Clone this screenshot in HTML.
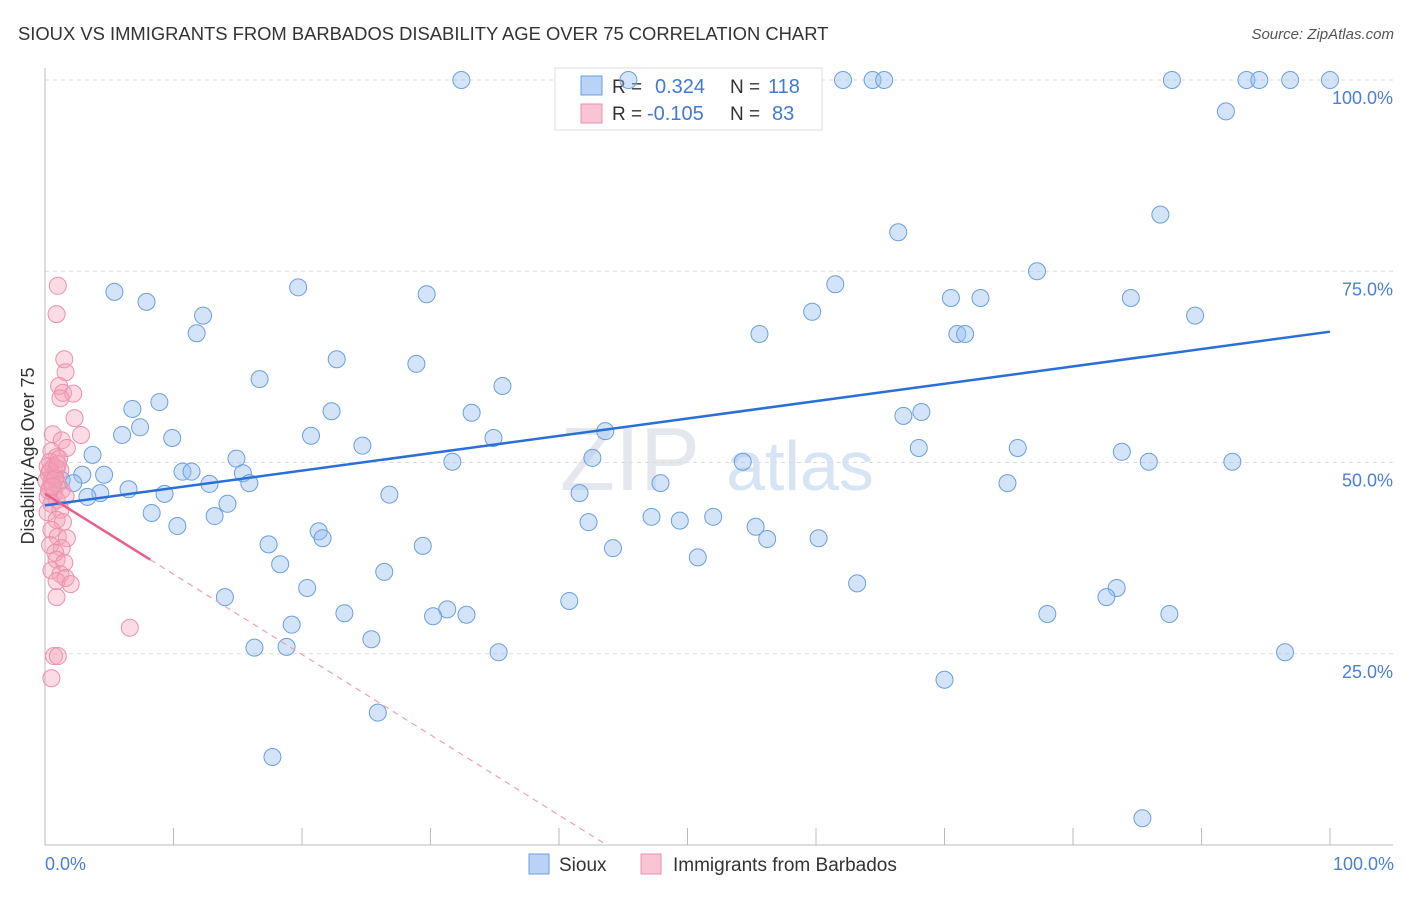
<!DOCTYPE html>
<html><head><meta charset="utf-8">
<style>
body{margin:0;background:#fff;font-family:"Liberation Sans",sans-serif;}
svg text{font-family:"Liberation Sans",sans-serif;}
</style></head>
<body>
<svg id="chart" width="1406" height="892" xmlns="http://www.w3.org/2000/svg">
<text x="18" y="40" font-size="18.4" fill="#333">SIOUX VS IMMIGRANTS FROM BARBADOS DISABILITY AGE OVER 75 CORRELATION CHART</text>
<text x="1394" y="39" font-size="15" fill="#555" text-anchor="end" font-style="italic">Source: ZipAtlas.com</text>
<text x="630" y="490" font-size="90" fill="#e4e8ee" font-family="Liberation Serif" text-anchor="middle">ZIP</text>
<text x="800" y="490" font-size="70" fill="#d6e4f4" text-anchor="middle">atlas</text>
<g id="grid"></g>
<g id="axes"></g>
<g>
<rect x="555" y="68" width="267" height="62" fill="#fff" stroke="#ddd"/>
<rect x="581" y="76" width="21" height="19" fill="#b8d3f5" stroke="#6b9fe0"/>
<rect x="581" y="104" width="21" height="19" fill="#f9c4d4" stroke="#eb91ae"/>
<text x="612" y="93" font-size="19" fill="#333">R = </text><text x="655" y="93" font-size="20" fill="#3f7ad6">0.324</text>
<text x="730" y="93" font-size="19" fill="#333">N = </text><text x="768" y="93" font-size="20" fill="#3f7ad6">118</text>
<text x="612" y="120" font-size="19" fill="#333">R = </text><text x="647" y="120" font-size="20" fill="#3f7ad6">-0.105</text>
<text x="730" y="120" font-size="19" fill="#333">N = </text><text x="772" y="120" font-size="20" fill="#3f7ad6">83</text>
</g>
<g id="pts"></g>
<g id="lines"></g>
<text x="34" y="456" font-size="18" fill="#333" text-anchor="middle" transform="rotate(-90 34 456)">Disability Age Over 75</text>
<text x="45" y="870" font-size="18" fill="#4a7fd4">0.0%</text>
<text x="1394" y="870" font-size="18" fill="#4a7fd4" text-anchor="end">100.0%</text>
<g>
<rect x="529" y="854" width="20" height="20" fill="#b8d3f5" stroke="#6b9fe0"/>
<text x="559" y="871" font-size="19" fill="#333">Sioux</text>
<rect x="641" y="854" width="20" height="20" fill="#f9c4d4" stroke="#eb91ae"/>
<text x="673" y="871" font-size="19" fill="#333">Immigrants from Barbados</text>
</g>
</svg>
<script>
const yTicks=[25,50,75,100];
const yTickLabels=["25.0%","50.0%","75.0%","100.0%"];
const xTicks=[0,10,20,30,40,50,60,70,80,90,100];
const siouxX=[32.4,45.4,62.1,64.4,65.3,87.7,93.5,94.5,96.9,100,91.9,86.8,66.4,77.2,61.5,5.4,19.7,29.7,7.9,70.5,72.8,84.5,59.7,89.5,12.3,11.8,55.6,71,71.6,22.7,28.9,16.7,35.6,8.9,6.8,22.3,33.2,66.8,68.2,7.4,6,43.6,20.7,9.9,34.9,24.7,68,75.7,83.8,3.7,14.9,42.6,31.7,54.3,85.9,92.4,10.7,11.4,2.9,4.6,15.4,1.3,2.2,12.8,15.9,47.9,74.9,6.5,4.3,3.3,9.3,26.8,41.6,14.2,8.3,13.2,47.2,52,49.4,10.3,42.3,55.3,21.3,21.6,56.2,60.2,17.4,29.4,44.2,50.8,18.3,26.4,63.2,20.4,83.4,82.6,14,40.8,31.3,23.3,30.2,32.8,78,87.5,19.2,25.4,16.3,18.8,35.3,96.5,70,25.9,17.7,85.4];
const siouxY=[100,100,100,100,100,100,100,100,100,100,95.9,82.4,80.1,75,73.3,72.3,72.9,72,71,71.5,71.5,71.5,69.7,69.2,69.2,66.9,66.8,66.8,66.8,63.5,62.9,60.9,60,57.9,57,56.7,56.5,56.1,56.6,54.6,53.6,54.1,53.5,53.2,53.2,52.2,51.9,51.9,51.4,51,50.5,50.6,50.1,50.1,50.1,50.1,48.8,48.8,48.4,48.4,48.6,47.7,47.3,47.2,47.3,47.3,47.3,46.5,46,45.5,45.9,45.8,46,44.6,43.4,43,42.9,42.9,42.4,41.7,42.2,41.6,41,40.1,40,40.1,39.3,39.1,38.8,37.6,36.7,35.7,34.2,33.6,33.6,32.4,32.4,31.9,30.8,30.3,29.9,30.1,30.2,30.2,28.8,26.9,25.8,25.9,25.2,25.2,21.6,17.3,11.5,3.5];
const barbX=[1,0.9,1.5,1.6,1.1,1.4,2.2,1.2,2.3,2.8,0.6,1.3,1.7,0.5,0.9,0.4,0.7,1.2,0.3,0.8,0.5,1,0.4,1.3,0.7,0.2,0.9,1.6,0.5,1.2,0.2,0.9,1.4,0.5,1,1.7,0.4,1.3,0.8,0.9,1.5,0.5,1.2,1.6,0.9,2,0.9,6.6,0.7,1,0.5,0.2,0.6,0.1,0.9,0.3,1.1,0.4,0.8,0.6,1.0];
const barbY=[73.1,69.4,63.5,61.8,60,59.1,59,58.4,55.8,53.6,53.7,52.9,51.9,51.5,50.7,50.1,49.5,49,48.5,48,47.5,47.2,46.7,46.4,45.9,45.5,45.1,45.6,44.6,43.8,43.5,42.5,42.2,41.2,40.3,40.1,39.2,38.8,38.2,37.3,36.9,35.9,35.4,34.9,34.5,34.1,32.4,28.4,24.7,24.7,21.8,49.5,48.3,47.6,49.2,46.3,50.5,48.9,47.9,46.9,49.8];
const siouxFit=[44.4,67.1];
const barbFit=[45.9,-1.05];
const barbSolidEnd=8.2;
const X0=45,X1=1330,Y0=845,Y100=80;
const sx=v=>X0+(X1-X0)*v/100, sy=v=>Y0-(Y0-Y100)*v/100;
const NS="http://www.w3.org/2000/svg";
function mk(tag,attrs,parent){const e=document.createElementNS(NS,tag);for(const k in attrs)e.setAttribute(k,attrs[k]);parent.appendChild(e);return e;}
const grid=document.getElementById('grid'),axes=document.getElementById('axes'),pts=document.getElementById('pts'),lines=document.getElementById('lines');
yTicks.forEach((t,i)=>{
 const l=mk('line',{x1:X0,x2:1393,y1:sy(t),y2:sy(t),stroke:'#dcdcdc','stroke-dasharray':'4,4'},grid);
 
 
 const tx=mk('text',{x:1393,y:sy(t)+24,'font-size':18,fill:'#4a7fd4','text-anchor':'end'},grid);
 tx.textContent=yTickLabels[i];
 
 
});
const ax=mk('line',{x1:X0,x2:1393,y1:Y0,y2:Y0,stroke:'#bbb'},axes);


const ay=mk('line',{x1:X0,x2:X0,y1:68,y2:Y0,stroke:'#bbb'},axes);


xTicks.forEach(t=>{
 const l=mk('line',{x1:sx(t),x2:sx(t),y1:828,y2:Y0,stroke:'#bbb'},axes);
 
 
});
siouxX.forEach((x,i)=>{
 const c=mk('circle',{cx:sx(x),cy:sy(siouxY[i]),r:8.5,fill:'rgba(150,190,240,0.42)',stroke:'#6b9fe0','stroke-width':1},pts);
 
 
});
barbX.forEach((x,i)=>{
 const c=mk('circle',{cx:sx(x),cy:sy(barbY[i]),r:8.5,fill:'rgba(244,160,185,0.38)',stroke:'#eb91ae','stroke-width':1},pts);
 
 
});
const bl=mk('line',{x1:sx(0),y1:sy(siouxFit[0]),x2:sx(100),y2:sy(siouxFit[1]),stroke:'#2a6fd8','stroke-width':2.5},lines);


const pf=x=>barbFit[0]+barbFit[1]*x;
const xz=-barbFit[0]/barbFit[1];
const pl=mk('line',{x1:sx(0),y1:sy(pf(0)),x2:sx(barbSolidEnd),y2:sy(pf(barbSolidEnd)),stroke:'#e8608a','stroke-width':2.5},lines);


const pd=mk('line',{x1:sx(barbSolidEnd),y1:sy(pf(barbSolidEnd)),x2:sx(xz),y2:sy(0),stroke:'#eea0b8','stroke-width':1.2,'stroke-dasharray':'6,5'},lines);


</script>
</body></html>
